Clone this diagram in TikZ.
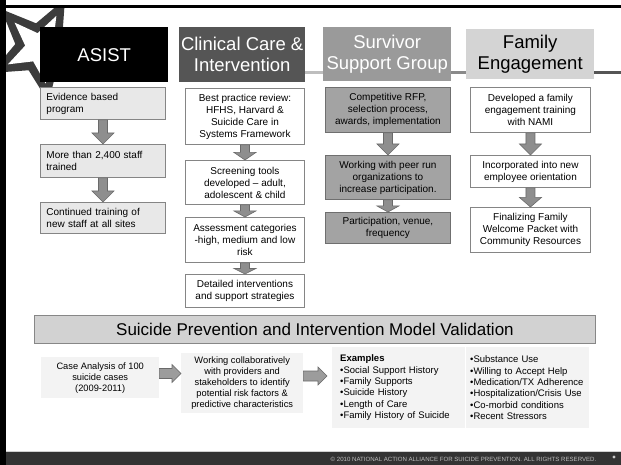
\documentclass[tikz,border=0pt]{standalone}
\usepackage{fontspec}
\setmainfont{Liberation Sans}
\usetikzlibrary{calc}
\definecolor{hdrB}{HTML}{555555}
\definecolor{hdrC}{HTML}{9A9A9A}
\definecolor{hdrD}{HTML}{D4D4D4}
\definecolor{boxA}{HTML}{E8E8E8}
\definecolor{boxC}{HTML}{A3A3A3}
\definecolor{bord}{HTML}{858585}
\definecolor{bordC}{HTML}{6F6F6F}
\definecolor{arrF}{HTML}{8E8E8E}
\definecolor{arrF2}{HTML}{9C9C9C}
\definecolor{arrD}{HTML}{6A6A6A}
\definecolor{pale}{HTML}{F3F3F3}
\definecolor{banner}{HTML}{D2D2D2}
\definecolor{bannerB}{HTML}{878787}
\definecolor{footbar}{HTML}{333333}
\definecolor{footline}{HTML}{D0D0D0}
\definecolor{foottext}{HTML}{BEBEBE}
\definecolor{footdot}{HTML}{C8C8C8}
\definecolor{stardark}{HTML}{3C3C3C}
\definecolor{barB}{HTML}{BEBEBE}
\definecolor{barC}{HTML}{8A8A8A}
\tikzset{
  hdr/.style={rectangle, anchor=north west, inner sep=0pt, align=center,
    font=\fontsize{18.5}{21}\selectfont},
  sub/.style={rectangle, anchor=north west, draw=bord, line width=0.9pt,
    inner xsep=3pt, inner ysep=0pt, align=center, font=\fontsize{10}{12}\selectfont},
  subA/.style={sub, fill=boxA, align=left, inner xsep=6pt, text width=#1},
  subC/.style={sub, fill=boxC, draw=bordC},
  subW/.style={sub, fill=white},
  pbox/.style={rectangle, anchor=north west, fill=pale, inner xsep=3pt, inner ysep=0pt,
    align=center, font=\fontsize{9.3}{11}\selectfont},
  lbox/.style={pbox, align=left, font=\fontsize{9.5}{11.3}\selectfont},
  barrow/.style={fill=arrF, draw=arrD, line width=0.6pt, line join=miter},
  hbar/.style={line width=3.5pt},
}
\newcommand\varr[2]{%
  \path[barrow] let \p1=(#1.south), \p2=(#2.north),
    \n1={min(11, 0.5*(\y1-\y2))} in
    (\x1-4.5pt,\y1) -- (\x1+4.5pt,\y1) -- (\x1+4.5pt,\y2+\n1*1pt) -- (\x1+11pt,\y2+\n1*1pt)
    -- (\x1,\y2) -- (\x1-11pt,\y2+\n1*1pt) -- (\x1-4.5pt,\y2+\n1*1pt) -- cycle;}
\newcommand\harr[3]{%
  \path[barrow, fill=arrF2] let \p1=(#1.east), \p2=(#2), \p3=(#3) in
    (\x1,\y3+5pt) -- (\x2-9pt,\y3+5pt) -- (\x2-9pt,\y3+9pt) -- (\x2,\y3)
    -- (\x2-9pt,\y3-9pt) -- (\x2-9pt,\y3-5pt) -- (\x1,\y3-5pt) -- cycle;}
\begin{document}
\begin{tikzpicture}[x=1pt, y=-1pt]
\useasboundingbox (0,0) rectangle (621,465);
\fill[white] (0,0) rectangle (621,465);
% star decoration
\begin{scope}
  \clip (6,8.5) rectangle (621,465);
  \fill[stardark, shift={(40,48)}] (225:55) \foreach \i in {1,...,9} {-- ({225+\i*36}:{ifthenelse(mod(\i,2)==0,55,25)})} -- cycle;
  \fill[white, shift={(40,48)}] (225:36) \foreach \i in {1,...,9} {-- ({225+\i*36}:{ifthenelse(mod(\i,2)==0,36,15)})} -- cycle;
\end{scope}
% frame
\fill[black] (0,0) rectangle (6,465);
\fill[black] (0,5.5) rectangle (621,8.5);
\fill[footbar] (6,452) rectangle (621,465);
\draw[footline, line width=1pt] (6,451.5) -- (621,451.5);
\node[font=\fontsize{6.1}{7}\selectfont, text=foottext] (foot) at (463.5,459) {© 2010 NATIONAL ACTION ALLIANCE FOR SUICIDE PREVENTION. ALL RIGHTS RESERVED.};
\fill[footdot] (614,457) circle (1.6);

% headers
\node[hdr, fill=black, text=white, minimum width=128pt, minimum height=55pt] (asist) at (40,27) {ASIST};
\node[hdr, fill=hdrB, text=white, minimum width=126pt, minimum height=55pt] (clin) at (179,27) {Clinical Care \&\\Intervention};
\node[hdr, fill=hdrC, text=white, minimum width=128pt, minimum height=54pt] (surv) at (323,27) {Survivor\\Support Group};
\node[hdr, fill=hdrD, text=black, minimum width=128pt, minimum height=50pt] (fam) at (466,29) {Family\\Engagement};
\coordinate (barY) at (0,72.5);
\coordinate (redge) at (621,72.5);
\draw[hbar, barB] (clin.east |- barY) -- (surv.west |- barY);
\draw[hbar, barC] (surv.east |- barY) -- (fam.west |- barY);
\draw[hbar, hdrB] (fam.east |- barY) -- (redge);

% column 1
\node[subA=113pt, minimum width=125pt, minimum height=32pt] (a1) at (40,87) {Evidence based\\program};
\node[subA=113pt, minimum width=125pt, minimum height=33pt] (a2) at (40,144) {More than 2,400 staff\\trained};
\node[subA=113pt, minimum width=125pt, minimum height=31pt] (a3) at (40,202) {Continued training of\\new staff at all sites};
\varr{a1}{a2}
\varr{a2}{a3}

% column 2
\node[subW, minimum width=119pt, minimum height=56pt] (b1) at (185,88) {Best practice review:\\HFHS, Harvard \&\\Suicide Care in\\Systems Framework};
\node[subW, minimum width=119pt, minimum height=44pt] (b2) at (185,160) {Screening tools\\developed – adult,\\adolescent \& child};
\node[subW, minimum width=119pt, minimum height=45pt] (b3) at (185,217) {Assessment categories\\-high, medium and low\\risk};
\node[subW, minimum width=119pt, minimum height=33pt] (b4) at (185,274) {Detailed interventions\\and support strategies};
\varr{b1}{b2}
\varr{b2}{b3}
\varr{b3}{b4}

% column 3
\node[subC, minimum width=125pt, minimum height=45pt] (c1) at (325,87) {Competitive RFP,\\selection process,\\awards, implementation};
\node[subC, minimum width=125pt, minimum height=44pt] (c2) at (325,155) {Working with peer run\\organizations to\\increase participation.};
\node[subC, minimum width=125pt, minimum height=31pt] (c3) at (325,212) {Participation, venue,\\frequency};
\varr{c1}{c2}
\varr{c2}{c3}

% column 4
\node[subW, minimum width=120pt, minimum height=45pt] (d1) at (470,87) {Developed a family\\engagement training\\with NAMI};
\node[subW, minimum width=120pt, minimum height=32pt] (d2) at (470,155) {Incorporated into new\\employee orientation};
\node[subW, minimum width=120pt, minimum height=45pt] (d3) at (470,207) {Finalizing Family\\Welcome Packet with\\Community Resources};
\varr{d1}{d2}
\varr{d2}{d3}

% banner
\node[rectangle, anchor=north west, fill=banner, draw=bannerB, line width=0.9pt,
  minimum width=561pt, minimum height=28pt, inner sep=0pt, font=\fontsize{17}{20}\selectfont] (ban) at (34,315)
  {Suicide Prevention and Intervention Model Validation};

% bottom row
\node[pbox, minimum width=118pt, minimum height=41pt] (e1) at (41,357) {Case Analysis of 100\\suicide cases\\(2009-2011)};
\node[pbox, minimum width=122pt, minimum height=60pt] (e2) at (181,353) {Working collaboratively\\with providers and\\stakeholders to identify\\potential risk factors \&\\predictive characteristics};
\node[lbox, minimum width=133pt, minimum height=81pt, inner xsep=8pt, text width=117pt] (e3) at (332,347) {\textbf{Examples}\\•Social Support History\\•Family Supports\\•Suicide History\\•Length of Care\\•Family History of Suicide};
\node[lbox, minimum width=123pt, minimum height=81pt, inner xsep=4pt, text width=115pt] (e4) at (466,347) {•Substance Use\\•Willing to Accept Help\\•Medication/TX Adherence\\•Hospitalization/Crisis Use\\•Co-morbid conditions\\•Recent Stressors};
\coordinate (ay1) at (0,373.5);
\coordinate (ay2) at (0,376);
\coordinate (e2in) at (e2.west);
\coordinate (e3in) at ($(e3.west)+(-5,0)$);
\harr{e1}{e2in}{ay1}
\harr{e2}{e3in}{ay2}
\end{tikzpicture}
\end{document}
